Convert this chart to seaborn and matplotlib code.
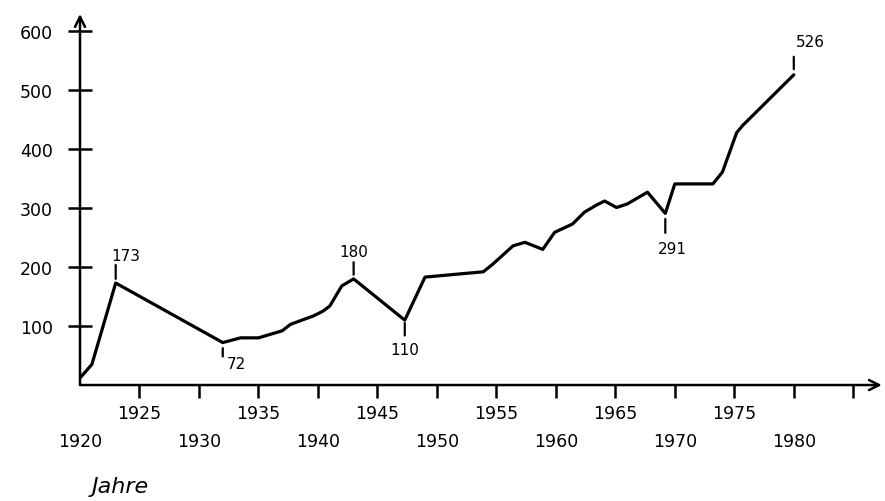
import matplotlib
matplotlib.use("Agg")
import matplotlib.pyplot as plt
import seaborn as sns
import pandas as pd

# values
years = [1920, 1921, 1923, 1932, 1933.5, 1935, 1937, 1937.7, 1939.6, 1940.4,
         1941, 1942, 1943, 1947.3, 1949, 1951.7, 1953.9, 1954.7, 1956.4, 1957.4,
         1958.9, 1959.9, 1961.4, 1962.4, 1963.4, 1964.1, 1965.1, 1966, 1967.7,
         1969.2, 1970, 1973.2, 1974, 1975.2, 1975.7, 1980]
values = [12, 35, 173, 72, 80, 80, 92, 103, 117, 125,
          134, 168, 180, 110, 183, 188, 192, 205, 236, 242,
          230, 259, 273, 293, 305, 312, 301, 307, 327,
          291, 341, 341, 361, 428, 440, 526]

# labelled points
marked_years = [1923, 1932, 1943, 1947.3, 1969.2, 1980]
marked_labels = ["173", "72", "180", "110", "291", "526"]
upper_ticks = [1925, 1935, 1945, 1955, 1965, 1975, 1985]
upper_labels = ["1925", "1935", "1945", "1955", "1965", "1975", ""]
lower_ticks = [1920, 1930, 1940, 1950, 1960, 1970, 1980]
lower_labels = ["1920", "1930", "1940", "1950", "1960", "1970", "1980"]
y_ticks = [100, 200, 300, 400, 500, 600]

df = pd.DataFrame({"Jahr": years, "Wert": values})

sns.set_style("white")
plt.rcParams["font.family"] = ["DejaVu Sans"]
plt.rcParams["text.color"] = "black"

fig = plt.figure(figsize=(8.85, 5.02), dpi=100)
ax = fig.add_axes([0.0904, 0.231, 0.906, 0.739])

sns.lineplot(data=df, x="Jahr", y="Wert", ax=ax, color="black", lw=2.3, sort=False)

ax.set_xlim(1920, 1987.4)
ax.set_ylim(0, 629)
for s in ax.spines.values():
    s.set_visible(False)

# axis arrows
arrow = dict(arrowstyle="->", lw=1.8, color="black", mutation_scale=18,
             shrinkA=0, shrinkB=0)
ax.annotate("", xy=(1, 0), xytext=(0, 0), xycoords="axes fraction", arrowprops=arrow)
ax.annotate("", xy=(0, 1), xytext=(0, 0), xycoords="axes fraction", arrowprops=arrow)

ax.set_yticks(y_ticks)
ax.set_yticklabels([str(v) for v in y_ticks])
ax.tick_params(axis="y", left=True, direction="inout", length=17, width=1.8,
               pad=11, labelsize=12.5, colors="black")

ax.set_xticks(upper_ticks)
ax.set_xticklabels(upper_labels)
ax.set_xticks(lower_ticks, minor=True)
ax.set_xticklabels(lower_labels, minor=True)
ax.tick_params(axis="x", which="major", bottom=True, direction="out", length=9,
               width=1.8, pad=5, labelsize=12.5, colors="black")
ax.tick_params(axis="x", which="minor", bottom=True, direction="out", length=9,
               width=1.8, pad=25, labelsize=12.5, colors="black")
# no tick mark at the origin
ax.xaxis.get_minor_ticks()[0].tick1line.set_visible(False)
ax.set_xlabel("")
ax.set_ylabel("")

# little leader ticks and numbers at the marked points (offsets in points)
offsets = {
    "173": (3, 13, (7, 20)),
    "72": (-4, -10, (10, -15)),
    "180": (3, 12, (0, 20)),
    "110": (-2, -11, (0, -21)),
    "291": (-4, -14, (5, -25)),
    "526": (4, 13, (12, 24)),
}
for yr, lab in zip(marked_years, marked_labels):
    val = values[years.index(yr)]
    gap, end, txt = offsets[lab]
    ax.annotate("", xy=(yr, val), xytext=(0, end), textcoords="offset points",
                arrowprops=dict(arrowstyle="-", lw=1.6, color="black",
                                shrinkA=0, shrinkB=abs(gap)))
    ax.annotate(lab, xy=(yr, val), xytext=txt, textcoords="offset points",
                ha="center", va="center", fontsize=11, color="black")

fig.text(0.136, 0.03, "Jahre", fontsize=16, style="italic", ha="center",
         va="center", color="black")

fig.savefig("out.png", dpi=100)
